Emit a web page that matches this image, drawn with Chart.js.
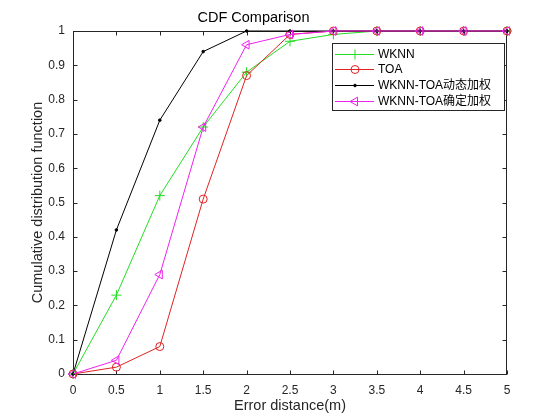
<!DOCTYPE html>
<html>
<head>
<meta charset="utf-8">
<script src="https://cdn.jsdelivr.net/npm/chart.js@4/dist/chart.umd.min.js"></script>
<style>
html,body{margin:0;padding:0;background:#fff;}
#wrap{width:560px;height:420px;}
</style>
</head>
<body>
<div id="wrap"><canvas id="c" width="560" height="420"></canvas></div>
<script>
// ---- data ----
const xValues = [0, 0.5, 1, 1.5, 2, 2.5, 3, 3.5, 4, 4.5, 5];
const wknnValues = [0, 0.23, 0.52, 0.72, 0.88, 0.97, 0.99, 1, 1, 1, 1];
const toaValues = [0, 0.02, 0.08, 0.51, 0.87, 0.99, 1, 1, 1, 1, 1];
const dynamicValues = [0, 0.42, 0.74, 0.94, 1, 1, 1, 1, 1, 1, 1];
const fixedValues = [0, 0.04, 0.29, 0.72, 0.96, 0.99, 1, 1, 1, 1, 1];
const seriesNames = ['WKNN', 'TOA', 'WKNN-TOA动态加权', 'WKNN-TOA确定加权'];
const xTicks = [0, 0.5, 1, 1.5, 2, 2.5, 3, 3.5, 4, 4.5, 5];
const xTickLabels = ['0', '0.5', '1', '1.5', '2', '2.5', '3', '3.5', '4', '4.5', '5'];
const yTicks = [0, 0.1, 0.2, 0.3, 0.4, 0.5, 0.6, 0.7, 0.8, 0.9, 1];
const yTickLabels = ['0', '0.1', '0.2', '0.3', '0.4', '0.5', '0.6', '0.7', '0.8', '0.9', '1'];
const titleText = 'CDF Comparison';
const xTitle = 'Error distance(m)';
const yTitle = 'Cumulative distribution function';

const FONT = "'Liberation Sans', Arial, 'Noto Sans CJK SC', sans-serif";
Chart.defaults.font.family = FONT;

function pts(vals) { return xValues.map((x, i) => ({ x: x, y: vals[i] })); }

const styles = [
  { color: '#22dd22', pointStyle: 'cross', radius: 5, rotation: 0, fill: 'rgba(0,0,0,0)' },
  { color: '#e02222', pointStyle: 'circle', radius: 4, rotation: 0, fill: 'rgba(0,0,0,0)' },
  { color: '#000000', pointStyle: 'circle', radius: 1.3, rotation: 0, fill: '#000000' },
  { color: '#ee22ee', pointStyle: 'triangle', radius: 5, rotation: -90, fill: 'rgba(0,0,0,0)' }
];
const seriesValues = [wknnValues, toaValues, dynamicValues, fixedValues];

const datasets = seriesValues.map((vals, i) => ({
  label: seriesNames[i],
  data: pts(vals),
  borderColor: styles[i].color,
  backgroundColor: styles[i].fill,
  borderWidth: 1,
  pointStyle: styles[i].pointStyle,
  pointRadius: styles[i].radius,
  pointRotation: styles[i].rotation,
  pointBorderColor: styles[i].color,
  pointBackgroundColor: styles[i].fill,
  pointBorderWidth: 1,
  pointHoverRadius: styles[i].radius,
  tension: 0,
  fill: false,
  clip: false,
  order: 4 - i
}));

function drawMarker(ctx, st, x, y) {
  ctx.save();
  ctx.strokeStyle = st.color;
  ctx.fillStyle = st.fill;
  ctx.lineWidth = 1;
  const r = st.radius;
  ctx.beginPath();
  if (st.pointStyle === 'cross') {
    ctx.moveTo(x - r, y); ctx.lineTo(x + r, y);
    ctx.moveTo(x, y - r); ctx.lineTo(x, y + r);
    ctx.stroke();
  } else if (st.pointStyle === 'circle') {
    ctx.arc(x, y, r, 0, Math.PI * 2);
    ctx.fill(); ctx.stroke();
  } else if (st.pointStyle === 'triangle') {
    const a0 = (st.rotation - 90) * Math.PI / 180;
    for (let k = 0; k < 3; k++) {
      const a = a0 + k * 2 * Math.PI / 3;
      const px = x + r * Math.cos(a), py = y + r * Math.sin(a);
      if (k === 0) ctx.moveTo(px, py); else ctx.lineTo(px, py);
    }
    ctx.closePath();
    ctx.fill(); ctx.stroke();
  }
  ctx.restore();
}

const boxPlugin = {
  id: 'boxTicks',
  beforeDatasetsDraw(chart) {
    const { ctx, chartArea: a, scales } = chart;
    const L = Math.round(a.left) + 0.5, R = Math.round(a.right) - 0.5;
    const T = Math.round(a.top) + 0.5, B = Math.round(a.bottom) + 0.5;
    ctx.save();
    ctx.strokeStyle = '#262626';
    ctx.lineWidth = 1;
    ctx.strokeRect(L, T, R - L, B - T);
    ctx.beginPath();
    const tl = 4;
    xTicks.forEach(v => {
      const px = Math.round(scales.x.getPixelForValue(v)) + 0.5;
      ctx.moveTo(px, B); ctx.lineTo(px, B - tl);
      ctx.moveTo(px, T); ctx.lineTo(px, T + tl);
    });
    yTicks.forEach(v => {
      const py = Math.round(scales.y.getPixelForValue(v)) + 0.5;
      ctx.moveTo(L, py); ctx.lineTo(L + tl, py);
      ctx.moveTo(R, py); ctx.lineTo(R - tl, py);
    });
    ctx.stroke();
    ctx.restore();
  }
};

const legendPlugin = {
  id: 'matlabLegend',
  afterDraw(chart) {
    const ctx = chart.ctx;
    const bx = 332.5, by = 43.5, bw = 172, bh = 67;
    ctx.save();
    ctx.fillStyle = '#ffffff';
    ctx.fillRect(bx, by, bw, bh);
    ctx.strokeStyle = '#262626';
    ctx.lineWidth = 1;
    ctx.strokeRect(bx, by, bw, bh);
    const rowY0 = 53.5, rowGap = 15.7;
    seriesNames.forEach((name, i) => {
      const y = Math.round(rowY0 + i * rowGap) + 0.5;
      ctx.strokeStyle = styles[i].color;
      ctx.lineWidth = 1;
      ctx.beginPath();
      ctx.moveTo(335, y); ctx.lineTo(374, y);
      ctx.stroke();
      drawMarker(ctx, styles[i], 355, y);
      ctx.fillStyle = '#000000';
      ctx.font = "12px " + FONT;
      ctx.textBaseline = 'middle';
      ctx.textAlign = 'left';
      ctx.fillText(name, 378, y);
    });
    ctx.restore();
  }
};

new Chart(document.getElementById('c'), {
  type: 'line',
  data: { datasets: datasets },
  options: {
    responsive: false,
    animation: false,
    events: [],
    layout: { padding: { left: 0, right: 53, top: 0, bottom: 0 } },
    plugins: {
      legend: { display: false },
      tooltip: { enabled: false },
      title: {
        display: true,
        text: titleText,
        color: '#000000',
        font: { size: 14.5, weight: 'normal', lineHeight: 1.2 },
        padding: { top: 9.6, bottom: 4 }
      }
    },
    scales: {
      x: {
        type: 'linear',
        min: 0, max: 5,
        grid: { display: false, drawTicks: false },
        border: { display: false },
        afterBuildTicks: s => { s.ticks = xTicks.map(v => ({ value: v })); },
        afterFit: s => { s.height = 46; },
        ticks: {
          color: '#262626',
          font: { size: 12 },
          padding: 9,
          maxRotation: 0,
          autoSkip: false,
          callback: (v, i) => xTickLabels[i]
        },
        title: {
          display: true,
          text: xTitle,
          color: '#262626',
          font: { size: 14.5, lineHeight: 1.2 },
          padding: { top: 0, bottom: 5 }
        }
      },
      y: {
        type: 'linear',
        min: 0, max: 1,
        grid: { display: false, drawTicks: false },
        border: { display: false },
        afterBuildTicks: s => { s.ticks = yTicks.map(v => ({ value: v })); },
        afterFit: s => { s.width = 73; },
        ticks: {
          color: '#262626',
          font: { size: 12 },
          padding: 8,
          autoSkip: false,
          callback: (v, i) => yTickLabels[i]
        },
        title: {
          display: true,
          text: yTitle,
          color: '#262626',
          font: { size: 14.5, lineHeight: 1.2 },
          padding: { top: 28.8, bottom: 0 }
        }
      }
    }
  },
  plugins: [boxPlugin, legendPlugin]
});
</script>
</body>
</html>
